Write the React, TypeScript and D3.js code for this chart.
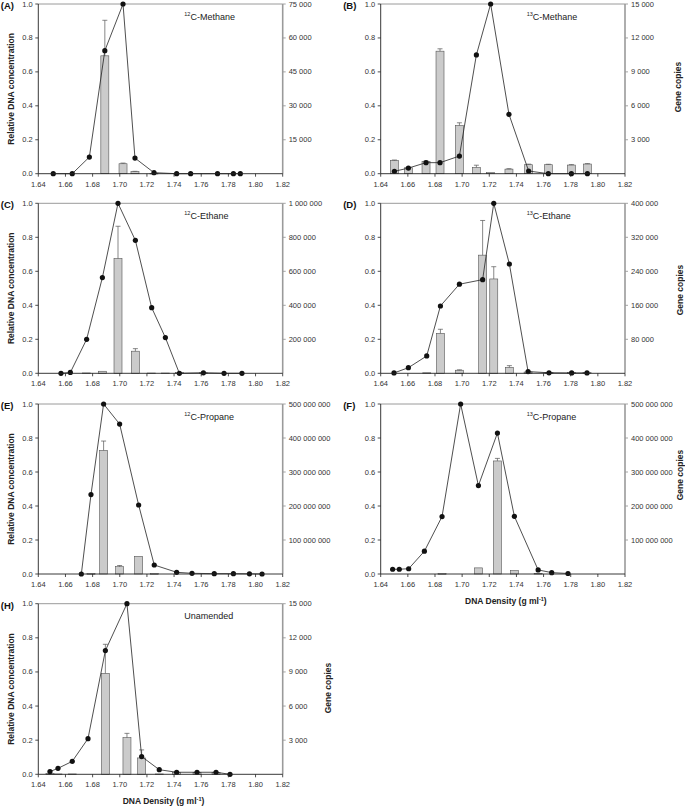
import React from "react";
import * as d3 from "d3";

const xTicks = [1.64, 1.66, 1.68, 1.7, 1.72, 1.74, 1.76, 1.78, 1.8, 1.82];
const leftTicks = [0, 0.2, 0.4, 0.6, 0.8, 1.0];

// (A) 12C-Methane
const densA = [1.651, 1.665, 1.6776, 1.689, 1.7024, 1.7112, 1.7252, 1.7419, 1.7522, 1.772, 1.7837, 1.7888];
const relA = [0, 0, 0.098, 0.725, 1.0, 0.092, 0.006, 0, 0, 0, 0, 0];
const genesA = [0, 0, 0, 52100, 4400, 900, 150, 0, 0, 0, 0, 0];
const errA = [0, 0, 0, 15700, 300, 150, 0, 0, 0, 0, 0, 0];
const rTicksA = [15000, 30000, 45000, 60000, 75000];

// (B) 13C-Methane
const densB = [1.6501, 1.6604, 1.6734, 1.6837, 1.698, 1.7105, 1.721, 1.7345, 1.749, 1.7635, 1.7805, 1.7923];
const relB = [0.014, 0.033, 0.065, 0.065, 0.104, 0.7, 1.0, 0.35, 0.016, 0, 0, 0];
const genesB = [1170, 525, 1080, 10830, 4260, 555, 90, 405, 795, 795, 765, 855];
const errB = [40, 40, 40, 210, 240, 195, 0, 40, 50, 40, 40, 40];
const rTicksB = [3000, 6000, 9000, 12000, 15000];

// (C) 12C-Ethane
const densC = [1.6567, 1.6636, 1.6756, 1.6872, 1.6987, 1.7115, 1.7235, 1.7336, 1.7439, 1.7616, 1.7768, 1.79];
const relC = [0, 0.005, 0.2, 0.563, 1.0, 0.782, 0.386, 0.21, 0, 0.003, 0, 0];
const genesC = [0, 0, 2000, 12000, 675000, 130000, 1500, 1500, 5000, 3000, 0, 0];
const errC = [0, 0, 0, 0, 190000, 15000, 0, 0, 0, 0, 0, 0];
const rTicksC = [200000, 400000, 600000, 800000, 1000000];

// (D) 13C-Ethane
const densD = [1.6498, 1.6604, 1.6739, 1.684, 1.698, 1.7151, 1.7233, 1.7348, 1.7486, 1.764, 1.7807, 1.792];
const relD = [0.002, 0.033, 0.102, 0.396, 0.524, 0.551, 1.0, 0.643, 0.01, 0.003, 0.002, 0.002];
const genesD = [0, 0, 1200, 94000, 7200, 278000, 222000, 14000, 3000, 1500, 1500, 1500];
const errD = [0, 0, 0, 9600, 1000, 81600, 28800, 4000, 0, 0, 0, 0];
const rTicksD = [80000, 160000, 240000, 320000, 400000];

// (E) 12C-Propane
const densE = [1.6717, 1.6788, 1.6881, 1.6999, 1.7139, 1.7254, 1.7419, 1.7532, 1.7696, 1.7837, 1.7955, 1.8048];
const relE = [0, 0.467, 1.0, 0.882, 0.406, 0.053, 0.01, 0.004, 0.002, 0.002, 0.001, 0];
const genesE = [0, 1000000, 363500000, 21500000, 52000000, 1000000, 0, 0, 0, 0, 0, 0];
const errE = [0, 0, 27500000, 3500000, 0, 0, 0, 0, 0, 0, 0, 0];
const rTicksE = [100000000, 200000000, 300000000, 400000000, 500000000];

// (F) 13C-Propane
const densF = [1.6488, 1.6537, 1.6606, 1.6722, 1.6852, 1.6989, 1.712, 1.726, 1.7385, 1.756, 1.766, 1.778];
const relF = [0.028, 0.028, 0.031, 0.134, 0.338, 1.0, 0.52, 0.829, 0.339, 0.024, 0.008, 0.003];
const genesF = [0, 0, 0, 0, 1000000, 0, 18000000, 332500000, 10000000, 1500000, 0, 0];
const errF = [0, 0, 0, 0, 0, 0, 0, 7500000, 0, 0, 0, 0];
const rTicksF = [100000000, 200000000, 300000000, 400000000, 500000000];

// (H) Unamended
const densH = [1.6486, 1.6545, 1.665, 1.6766, 1.6894, 1.7053, 1.7161, 1.7291, 1.7419, 1.7569, 1.7709, 1.7812];
const relH = [0.016, 0.035, 0.076, 0.209, 0.725, 1.0, 0.104, 0.027, 0.012, 0.012, 0.012, 0];
const genesH = [60, 30, 30, 0, 8880, 3225, 1440, 30, 150, 150, 150, 0];
const errH = [0, 0, 0, 0, 2550, 375, 705, 0, 0, 0, 0, 0];
const rTicksH = [3000, 6000, 9000, 12000, 15000];

const FONT = "'Liberation Sans', Arial, Helvetica, sans-serif";
const fmtR = (v: number) => d3.format(",")(v).replace(/,/g, " ");

type PanelProps = {
  x0: number; x1: number; y0: number; y1: number;
  label: string; sup?: string; title: string;
  dens: number[]; rel: number[]; genes: number[]; err: number[];
  rMax: number; rTicks: number[];
  leftTitle?: boolean; geneX?: number; geneY?: number; xTitle?: boolean;
};

function Panel(p: PanelProps) {
  const x = d3.scaleLinear().domain([1.64, 1.82]).range([p.x0, p.x1]);
  const yL = d3.scaleLinear().domain([0, 1]).range([p.y1, p.y0]);
  const yR = d3.scaleLinear().domain([0, p.rMax]).range([p.y1, p.y0]);
  const line = d3.line<number>().x((_, i) => x(p.dens[i])).y((d) => yL(d));
  const bw = 8;
  const midY = (p.y0 + p.y1) / 2;
  return (
    <g fontFamily={FONT}>
      {/* frame top and right axis (gray) */}
      <line x1={p.x0} x2={p.x1} y1={p.y0} y2={p.y0} stroke="#9a9a9a" strokeWidth={1} />
      <line x1={p.x1} x2={p.x1} y1={p.y0} y2={p.y1} stroke="#9a9a9a" strokeWidth={1.6} />
      {/* bars */}
      {p.genes.map((g, i) => {
        const h = p.y1 - yR(g);
        if (g <= 0) return null;
        return (
          <rect key={"b" + i} x={x(p.dens[i]) - bw / 2} y={yR(g)} width={bw} height={Math.max(h, 0.6)}
            fill="#cbcbcb" stroke="#555" strokeWidth={0.6} />
        );
      })}
      {/* error bars */}
      {p.err.map((e, i) => {
        if (e <= 0) return null;
        const cx = x(p.dens[i]);
        const top = yR(p.genes[i] + e);
        return (
          <g key={"e" + i} stroke="#555" strokeWidth={0.7}>
            <line x1={cx} x2={cx} y1={yR(p.genes[i])} y2={top} />
            <line x1={cx - 2.5} x2={cx + 2.5} y1={top} y2={top} />
          </g>
        );
      })}
      {/* line and points */}
      <path d={line(p.rel) || ""} fill="none" stroke="#222" strokeWidth={0.8} />
      {p.rel.map((r, i) => (
        <circle key={"p" + i} cx={x(p.dens[i])} cy={yL(r)} r={2.6} fill="#111" />
      ))}
      {/* left axis */}
      <line x1={p.x0} x2={p.x0} y1={p.y0} y2={p.y1} stroke="#222" strokeWidth={0.9} />
      {leftTicks.map((t) => (
        <g key={"l" + t}>
          <line x1={p.x0 - 3} x2={p.x0} y1={yL(t)} y2={yL(t)} stroke="#222" strokeWidth={0.8} />
          <text x={p.x0 - 5.5} y={yL(t)} dy="0.34em" textAnchor="end" fontSize={7.5} fill="#333">
            {t.toFixed(1)}
          </text>
        </g>
      ))}
      {/* bottom axis */}
      <line x1={p.x0} x2={p.x1} y1={p.y1} y2={p.y1} stroke="#222" strokeWidth={0.9} />
      {xTicks.map((t) => (
        <g key={"x" + t}>
          <line x1={x(t)} x2={x(t)} y1={p.y1} y2={p.y1 + 3} stroke="#222" strokeWidth={0.8} />
          <text x={x(t)} y={p.y1 + 13} textAnchor="middle" fontSize={7.5} fill="#333">
            {t.toFixed(2)}
          </text>
        </g>
      ))}
      {/* right axis ticks */}
      {p.rTicks.map((t) => (
        <g key={"r" + t}>
          <line x1={p.x1} x2={p.x1 + 3} y1={yR(t)} y2={yR(t)} stroke="#9a9a9a" strokeWidth={0.9} />
          <text x={p.x1 + 6} y={yR(t)} dy="0.34em" textAnchor="start" fontSize={7.5} fill="#333">
            {fmtR(t)}
          </text>
        </g>
      ))}
      {/* panel label */}
      <text x={p.x0 - 37.5} y={p.y0 + 5} fontSize={9.5} fontWeight="bold" fill="#111">{p.label}</text>
      {/* title */}
      <text x={p.x0 + 146} y={p.y0 + 15.5} fontSize={9} fill="#222">
        {p.sup ? (
          <>
            <tspan fontSize={5.5} dy={-3.5}>{p.sup}</tspan>
            <tspan dy={3.5}>{p.title}</tspan>
          </>
        ) : (
          <tspan>{p.title}</tspan>
        )}
      </text>
      {p.leftTitle && (
        <text transform={`translate(${p.x0 - 27.5},${midY}) rotate(-90)`} textAnchor="middle" dy="0.35em"
          fontSize={8.5} fontWeight="bold" fill="#222">Relative DNA concentration</text>
      )}
      {p.geneX !== undefined && (
        <text transform={`translate(${p.geneX},${p.geneY ?? midY}) rotate(-90)`} textAnchor="middle" dy="0.35em"
          fontSize={8.5} fontWeight="bold" fill="#222">Gene copies</text>
      )}
      {p.xTitle && (
        <text x={(p.x0 + p.x1) / 2 + 3} y={p.y1 + 30} textAnchor="middle" fontSize={8.5} fontWeight="bold" fill="#222">
          DNA Density (g ml<tspan fontSize={5.5} dy={-3.5}>-1</tspan><tspan dy={3.5}>)</tspan>
        </text>
      )}
    </g>
  );
}

export default function App() {
  const L0 = 38.3, L1 = 282.7, R0 = 380.7, R1 = 625;
  const rows = [[4, 173.7], [203.3, 373.3], [404, 574], [603.7, 774.3]];
  return (
    <svg width={685} height={806} style={{ position: "absolute", left: 0, top: 0, background: "#fff" }}>
      <rect width={685} height={806} fill="#fff" />
      <Panel x0={L0} x1={L1} y0={rows[0][0]} y1={rows[0][1]} label="(A)" sup="12" title="C-Methane"
        dens={densA} rel={relA} genes={genesA} err={errA} rMax={75000} rTicks={rTicksA} leftTitle />
      <Panel x0={R0} x1={R1} y0={rows[0][0]} y1={rows[0][1]} label="(B)" sup="13" title="C-Methane"
        dens={densB} rel={relB} genes={genesB} err={errB} rMax={15000} rTicks={rTicksB} geneX={678} geneY={87} />
      <Panel x0={L0} x1={L1} y0={rows[1][0]} y1={rows[1][1]} label="(C)" sup="12" title="C-Ethane"
        dens={densC} rel={relC} genes={genesC} err={errC} rMax={1000000} rTicks={rTicksC} leftTitle />
      <Panel x0={R0} x1={R1} y0={rows[1][0]} y1={rows[1][1]} label="(D)" sup="13" title="C-Ethane"
        dens={densD} rel={relD} genes={genesD} err={errD} rMax={400000} rTicks={rTicksD} geneX={680} geneY={290} />
      <Panel x0={L0} x1={L1} y0={rows[2][0]} y1={rows[2][1]} label="(E)" sup="12" title="C-Propane"
        dens={densE} rel={relE} genes={genesE} err={errE} rMax={500000000} rTicks={rTicksE} leftTitle />
      <Panel x0={R0} x1={R1} y0={rows[2][0]} y1={rows[2][1]} label="(F)" sup="13" title="C-Propane"
        dens={densF} rel={relF} genes={genesF} err={errF} rMax={500000000} rTicks={rTicksF} geneX={680} geneY={475} xTitle />
      <Panel x0={L0} x1={L1} y0={rows[3][0]} y1={rows[3][1]} label="(H)" title="Unamended"
        dens={densH} rel={relH} genes={genesH} err={errH} rMax={15000} rTicks={rTicksH} leftTitle geneX={328} geneY={688} xTitle />
    </svg>
  );
}
